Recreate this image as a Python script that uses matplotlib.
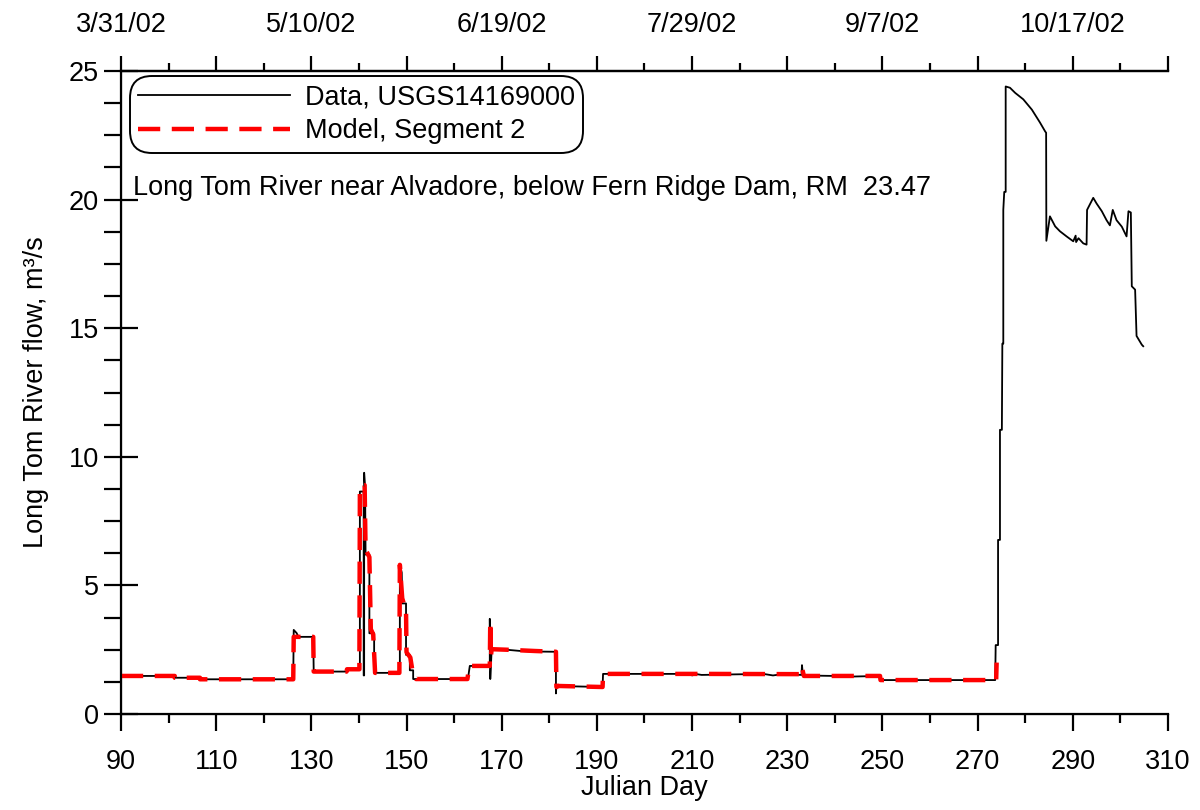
import matplotlib
matplotlib.use("Agg")
import matplotlib.pyplot as plt
from matplotlib.ticker import MultipleLocator, FixedLocator, FixedFormatter
import datetime as dt

plt.rcParams['font.family'] = ['Liberation Sans', 'DejaVu Sans']

# ---------------- data ----------------
data_day = [90, 101.3, 101.3, 106.6, 106.6, 126.2, 126.3, 126.9, 127.3, 130.4, 130.5,
            137.4, 137.5, 140.2, 140.2, 141.0, 141.0, 141.1, 141.1, 141.3, 141.4, 142.2,
            142.2, 143.2, 143.2, 148.6, 148.6, 149.0, 149.1, 149.9, 149.9, 150.7, 150.7,
            151.4, 151.4, 162.9, 163.3, 167.5, 167.5, 167.6, 167.9, 171.0, 174.0, 177.0,
            181.4, 181.4, 181.5, 191.2, 191.3, 209.5, 210.0, 211.0, 212.0, 225.0, 227.0,
            229.0, 233.0, 233.1, 233.3, 240.0, 242.0, 249.5, 249.5, 273.7, 273.8, 274.3,
            274.3, 274.7, 274.7, 275.1, 275.2, 275.4, 275.4, 275.6, 275.9, 275.9, 276.8,
            277.9, 279.6, 281.4, 283.1, 284.2, 284.4, 284.45, 285.2, 286.3, 287.3, 288.7,
            290.1, 290.6, 290.7, 291.2, 292.2, 292.9, 293.0, 294.3, 295.0, 296.1, 297.1,
            297.8, 298.4, 299.2, 300.3, 301.3, 301.7, 302.2, 302.4, 303.1, 303.4, 304.5,
            304.8]
data_flow = [1.48, 1.48, 1.41, 1.41, 1.35, 1.35, 3.27, 3.15, 3.00, 3.00, 1.65,
             1.65, 1.74, 1.74, 8.65, 8.65, 1.50, 1.50, 9.38, 8.80, 6.20, 6.20,
             3.14, 3.14, 1.60, 1.60, 5.80, 5.50, 4.30, 4.30, 2.30, 2.30, 1.70,
             1.70, 1.36, 1.36, 1.87, 1.87, 3.70, 1.36, 2.52, 2.50, 2.45, 2.43,
             2.42, 0.80, 1.09, 1.05, 1.56, 1.56, 1.50, 1.55, 1.52, 1.56, 1.50,
             1.55, 1.52, 1.90, 1.50, 1.48, 1.45, 1.48, 1.32, 1.32, 2.68, 2.68,
             6.77, 6.77, 11.05, 11.05, 14.40, 14.40, 19.60, 20.30, 20.30, 24.40, 24.35,
             24.15, 23.90, 23.50, 23.00, 22.65, 22.60, 18.40, 19.35, 18.96, 18.77, 18.57,
             18.38, 18.60, 18.35, 18.50, 18.30, 18.25, 19.60, 20.07, 19.85, 19.55, 19.20,
             19.00, 19.60, 19.20, 18.95, 18.57, 19.55, 19.50, 16.63, 16.50, 14.70, 14.36,
             14.30]

model_day = [90, 101.3, 101.3, 106.6, 106.6, 126.2, 126.3, 130.4, 130.5, 137.4, 137.5,
             140.1, 140.2, 140.6, 141.2, 141.4, 142.2, 142.5, 143.0, 143.4, 148.5, 148.6,
             149.1, 149.9, 150.0, 150.8, 151.4, 152.0, 162.8, 163.2, 167.5, 167.6, 167.7,
             167.9, 171.0, 177.0, 181.4, 181.5, 182.0, 191.2, 191.3, 211.7, 233.0, 233.1,
             233.5, 249.5, 249.6, 273.9, 274.0]
model_flow = [1.48, 1.48, 1.41, 1.41, 1.35, 1.35, 3.00, 3.00, 1.65, 1.65, 1.74,
              1.74, 8.60, 8.90, 8.90, 6.40, 6.10, 3.30, 3.10, 1.60, 1.60, 5.80,
              4.50, 4.00, 2.40, 2.20, 1.50, 1.36, 1.36, 1.87, 1.87, 3.60, 2.20,
              2.52, 2.50, 2.45, 2.42, 1.05, 1.09, 1.05, 1.56, 1.56, 1.55, 1.80,
              1.48, 1.48, 1.32, 1.32, 2.00]

x_range = (90, 310)
y_range = (0, 25)
x_major_ticks = [90, 110, 130, 150, 170, 190, 210, 230, 250, 270, 290, 310]
top_label_days = [90, 130, 170, 210, 250, 290]
series_labels = ['Data, USGS14169000', 'Model, Segment 2']
title_text = 'Long Tom River near Alvadore, below Fern Ridge Dam, RM  23.47'

FS = 19.5

def julian_to_str(d):
    t = dt.date(2002, 1, 1) + dt.timedelta(days=int(d) - 1)
    return f"{t.month}/{t.day}/{t.strftime('%y')}"

fig = plt.figure(figsize=(12, 8.1), dpi=100)
ax = fig.add_axes([0.1008, 0.1185, 0.8725, 0.7938])

ax.plot(data_day, data_flow, color='black', lw=1.3, label=series_labels[0], zorder=2)
ax.plot(model_day, model_flow, color='red', lw=3.2, ls=(0, (5, 2.6)),
        label=series_labels[1], zorder=3)

ax.set_xlim(*x_range)
ax.set_ylim(*y_range)

ax.spines['right'].set_visible(False)
for s in ['left', 'bottom', 'top']:
    ax.spines[s].set_linewidth(1.6)

ax.xaxis.set_major_locator(FixedLocator(x_major_ticks))
ax.xaxis.set_minor_locator(MultipleLocator(10))
ax.yaxis.set_major_locator(MultipleLocator(5))
ax.yaxis.set_minor_locator(MultipleLocator(1.25))

ax.tick_params(axis='x', which='major', direction='out', length=12.5, width=1.6,
               labelsize=FS, pad=13, top=False)
ax.tick_params(axis='x', which='minor', direction='out', length=6.5, width=1.6, top=False)
ax.tick_params(axis='y', which='major', direction='inout', length=24, width=1.6,
               labelsize=FS, pad=4, right=False)
ax.tick_params(axis='y', which='minor', direction='out', length=12, width=1.6, right=False)

ax.set_xlabel('Julian Day', fontsize=FS, labelpad=0)
ax.set_ylabel('Long Tom River flow, m³/s', fontsize=FS, labelpad=14)

# top date axis
ax2 = ax.twiny()
ax2.set_xlim(*x_range)
ax2.spines['right'].set_visible(False)
ax2.spines['top'].set_linewidth(1.6)
ax2.xaxis.set_major_locator(FixedLocator(x_major_ticks))
ax2.xaxis.set_minor_locator(MultipleLocator(10))
ax2.xaxis.set_major_formatter(FixedFormatter(
    [julian_to_str(d) if d in top_label_days else '' for d in x_major_ticks]))
ax2.tick_params(axis='x', which='major', direction='out', length=11, width=1.6,
                labelsize=FS, pad=13)
ax2.tick_params(axis='x', which='minor', direction='out', length=6, width=1.6)

leg = ax.legend(loc='upper left', bbox_to_anchor=(0.0086, 0.992), borderaxespad=0,
                fontsize=FS, handlelength=5.6, handletextpad=0.55, borderpad=0.3,
                labelspacing=0.3, frameon=True, fancybox=True)
fr = leg.get_frame()
fr.set_edgecolor('black')
fr.set_linewidth(1.4)
fr.set_alpha(1)
fr.set_boxstyle('round', pad=0, rounding_size=0.8)

ax.text(0.0115, 0.818, title_text, transform=ax.transAxes, fontsize=FS,
        ha='left', va='center')

fig.savefig('out.png', dpi=100)
